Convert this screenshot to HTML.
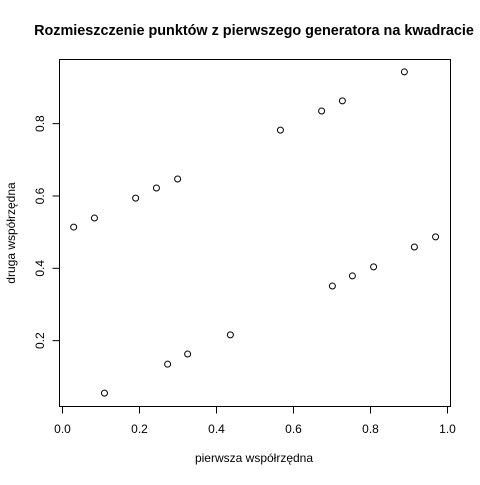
<!DOCTYPE html>
<html><head><meta charset="utf-8"><style>
body{margin:0;background:#fff}
svg text{font-family:"Liberation Sans",sans-serif;fill:#000}
</style></head><body>
<svg width="480" height="480" viewBox="0 0 480 480">
<rect x="0" y="0" width="480" height="480" fill="#fff"/>
<text x="254" y="35" text-anchor="middle" font-size="14.4" font-weight="bold">Rozmieszczenie punktów z pierwszego generatora na kwadracie</text>
<rect x="59.5" y="59.5" width="391" height="347" fill="none" stroke="#000" stroke-width="1"/>
<g id="xaxis"></g>
<g id="yaxis"></g>
<g id="pts"></g>
<text x="254" y="462" text-anchor="middle" font-size="12">pierwsza współrzędna</text>
<text transform="translate(15,233) rotate(-90)" text-anchor="middle" font-size="12">druga współrzędna</text>
</svg>
<script>
const xVals=[0.109,0.273,0.325,0.436,0.029,0.083,0.190,0.244,0.299,0.566,0.673,0.727,0.888,0.701,0.753,0.808,0.914,0.969];
const yVals=[0.055,0.135,0.163,0.216,0.514,0.539,0.594,0.622,0.647,0.782,0.835,0.863,0.943,0.351,0.379,0.404,0.459,0.487];
const xTicks=[0,0.2,0.4,0.6,0.8,1.0];
const xTickLabels=["0.0","0.2","0.4","0.6","0.8","1.0"];
const yTicks=[0.2,0.4,0.6,0.8];
const yTickLabels=["0.2","0.4","0.6","0.8"];
const NS="http://www.w3.org/2000/svg";
function sx(v){return 62.5+v*385;}
function sy(v){return 413-v*361.7;}
function mk(t,a){const e=document.createElementNS(NS,t);for(const k in a)e.setAttribute(k,a[k]);return e;}
const xa=document.getElementById('xaxis'),ya=document.getElementById('yaxis'),pg=document.getElementById('pts');
xa.appendChild(mk('line',{x1:sx(xTicks[0]),x2:sx(xTicks[xTicks.length-1]),y1:406.5,y2:406.5,stroke:'#000'}));
xTicks.forEach((v,i)=>{
  const l=mk('line',{x1:sx(v),x2:sx(v),y1:406.5,y2:413.5,stroke:'#000'});
  
  
  xa.appendChild(l);
  const t=mk('text',{x:sx(v),y:433,'text-anchor':'middle','font-size':'12'});
  
  
  t.textContent=xTickLabels[i];xa.appendChild(t);
});
ya.appendChild(mk('line',{x1:59.5,x2:59.5,y1:sy(yTicks[0]),y2:sy(yTicks[yTicks.length-1]),stroke:'#000'}));
yTicks.forEach((v,i)=>{
  const l=mk('line',{x1:52.5,x2:59.5,y1:sy(v),y2:sy(v),stroke:'#000'});
  
  
  ya.appendChild(l);
  const t=mk('text',{transform:`translate(44,${sy(v)}) rotate(-90)`,'text-anchor':'middle','font-size':'12'});
  
  
  t.textContent=yTickLabels[i];ya.appendChild(t);
});
xVals.forEach((v,i)=>{
  const c=mk('circle',{cx:sx(v),cy:sy(yVals[i]),r:3,fill:'none',stroke:'#000','stroke-width':1});
  
  
  pg.appendChild(c);
});
</script>
</body></html>
